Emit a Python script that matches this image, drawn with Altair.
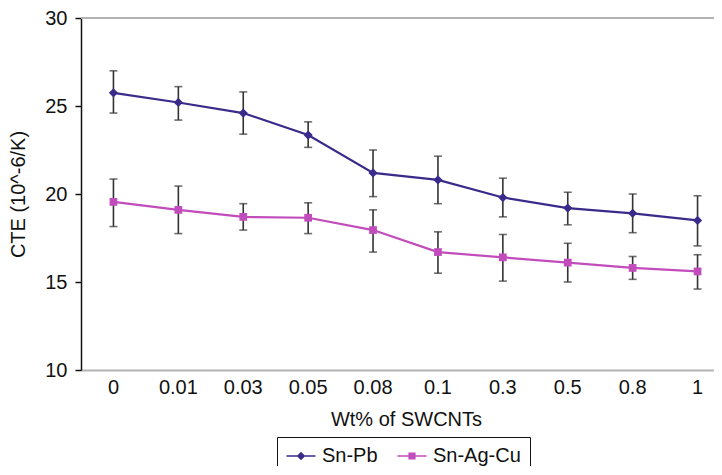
import altair as alt
import pandas as pd

categories = ["0", "0.01", "0.03", "0.05", "0.08", "0.1", "0.3", "0.5", "0.8", "1"]
series = ["Sn-Pb", "Sn-Ag-Cu"]
snpb_mean = [25.75, 25.2, 24.6, 23.35, 21.2, 20.8, 19.8, 19.2, 18.9, 18.5]
snpb_hi = [27.0, 26.1, 25.8, 24.1, 22.5, 22.15, 20.9, 20.1, 20.0, 19.9]
snpb_lo = [24.6, 24.2, 23.4, 22.65, 19.85, 19.45, 18.7, 18.25, 17.8, 17.05]
snag_mean = [19.55, 19.1, 18.7, 18.65, 17.95, 16.7, 16.4, 16.1, 15.8, 15.6]
snag_hi = [20.85, 20.45, 19.45, 19.5, 19.1, 17.85, 17.7, 17.2, 16.45, 16.55]
snag_lo = [18.15, 17.75, 17.95, 17.75, 16.7, 15.5, 15.05, 15.0, 15.15, 14.6]
y_ticks = [10, 15, 20, 25, 30]

colors = ["#3a2b8b", "#c24cbc"]
FONT = "Liberation Sans"

rows = []
for s, m, lo, hi in [
    ("Sn-Pb", snpb_mean, snpb_lo, snpb_hi),
    ("Sn-Ag-Cu", snag_mean, snag_lo, snag_hi),
]:
    for c, a, b, d in zip(categories, m, lo, hi):
        rows.append({"wt": c, "series": s, "cte": a, "lo": b, "hi": d})
df = pd.DataFrame(rows)

x = alt.X(
    "wt:O",
    sort=categories,
    scale=alt.Scale(range=[0, 649]),
    axis=alt.Axis(
        title="Wt% of SWCNTs",
        titleX=325,
        labelAngle=0,
        ticks=False,
        domainColor="#b3b3b3",
        domainWidth=2,
        labelFontSize=20,
        titleFontSize=20,
        labelFont=FONT,
        titleFont=FONT,
        labelColor="#111",
        titleColor="#111",
        titleFontWeight="normal",
        labelPadding=7,
        titlePadding=12,
    ),
)
yscale = alt.Scale(domain=[10, 30], nice=False, zero=False)
y_axis = alt.Axis(
    title="CTE (10^-6/K)",
    values=y_ticks,
    grid=False,
    domainColor="#111",
    domainWidth=1.5,
    tickColor="#111",
    tickSize=6,
    tickWidth=1.5,
    labelFontSize=20,
    titleFontSize=20,
    labelFont=FONT,
    titleFont=FONT,
    labelColor="#111",
    titleColor="#111",
    titleFontWeight="normal",
    labelPadding=8,
    titlePadding=16,
)

base = alt.Chart(df)

top_line = (
    alt.Chart(pd.DataFrame({"v": [30]}))
    .mark_rule(color="#b3b3b3", strokeWidth=2)
    .encode(y=alt.Y("v:Q", scale=yscale, axis=y_axis))
)

err = base.mark_rule(color="#333333", strokeWidth=1.6).encode(
    x=x, y=alt.Y("lo:Q", scale=yscale, axis=y_axis), y2="hi:Q"
)
cap_lo = base.mark_tick(color="#333333", thickness=1.6, size=8, orient="horizontal").encode(
    x=x, y=alt.Y("lo:Q", scale=yscale)
)
cap_hi = base.mark_tick(color="#333333", thickness=1.6, size=8, orient="horizontal").encode(
    x=x, y=alt.Y("hi:Q", scale=yscale)
)

line_pb = base.transform_filter(alt.datum.series == "Sn-Pb").mark_line(
    color=colors[0], strokeWidth=2.2
).encode(x=x, y=alt.Y("cte:Q", scale=yscale))
line_ag = base.transform_filter(alt.datum.series == "Sn-Ag-Cu").mark_line(
    color=colors[1], strokeWidth=2.2
).encode(x=x, y=alt.Y("cte:Q", scale=yscale))

pts_pb = base.transform_filter(alt.datum.series == "Sn-Pb").mark_point(
    shape="diamond", filled=True, size=85, color=colors[0], opacity=1
).encode(x=x, y=alt.Y("cte:Q", scale=yscale))
pts_ag = base.transform_filter(alt.datum.series == "Sn-Ag-Cu").mark_point(
    shape="square", filled=True, size=60, color=colors[1], opacity=1
).encode(x=x, y=alt.Y("cte:Q", scale=yscale))

# legend glyphs: a short line with the series marker, drawn as SVG paths
legend_shapes = [
    "M-0.95,-0.08H1.95V0.08H-0.95Z M0.5,-0.42L0.92,0L0.5,0.42L0.08,0Z",
    "M-0.95,-0.08H1.95V0.08H-0.95Z M0.14,-0.36H0.86V0.36H0.14Z",
]
legend_layer = base.transform_filter("false").mark_point(filled=True, opacity=1).encode(
    color=alt.Color(
        "series:N",
        scale=alt.Scale(domain=series, range=colors),
        legend=alt.Legend(
            title=None,
            orient="none",
            legendX=196,
            legendY=419,
            direction="horizontal",
            strokeColor="#111",
            padding=9,
            symbolSize=400,
            symbolStrokeWidth=0,
            labelFontSize=20,
            labelFont=FONT,
            labelColor="#111",
            labelOffset=16,
            columnPadding=19,
        ),
    ),
    shape=alt.Shape(
        "series:N",
        scale=alt.Scale(domain=series, range=legend_shapes),
        legend=alt.Legend(
            title=None,
            orient="none",
            legendX=196,
            legendY=419,
            direction="horizontal",
        ),
    ),
)

chart = (
    alt.layer(top_line, err, cap_lo, cap_hi, line_pb, line_ag, pts_pb, pts_ag, legend_layer)
    .properties(
        width=633,
        height=352,
        autosize=alt.AutoSizeParams(type="none"),
        padding={"left": 73, "top": 10, "right": 0, "bottom": 96},
        background="white",
    )
    .configure_view(stroke=None)
)

chart.save("out.html", embed_options={"renderer": "svg", "actions": False})
